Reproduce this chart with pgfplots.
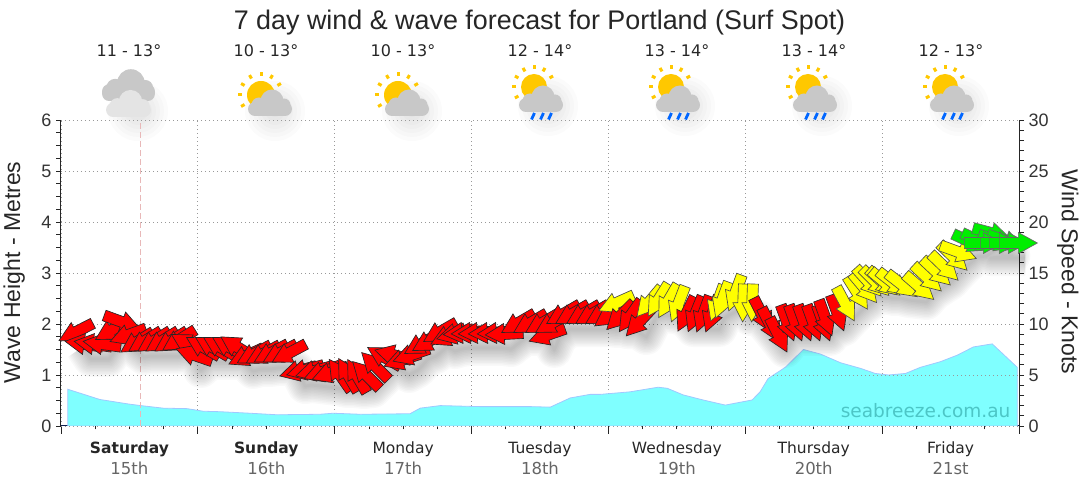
\documentclass[border=0pt]{standalone}
\usepackage{fontspec}
\usepackage{pgfplots}
\usepackage{pgfplotstable}
\pgfplotsset{compat=1.18}
\setmainfont{Liberation Sans}
\newfontfamily\labfont{DejaVu Sans}

\definecolor{wavefill}{HTML}{7FFFFF}
\definecolor{waveedge}{HTML}{A0C8FF}
\definecolor{griddot}{HTML}{999999}
\definecolor{nowline}{HTML}{E8B8B8}
\definecolor{ticktxt}{HTML}{333333}
\definecolor{daygrey}{HTML}{666666}
\definecolor{navyline}{HTML}{10204F}
\definecolor{arrowred}{HTML}{FF0000}
\definecolor{arrowyel}{HTML}{FFFF00}
\definecolor{arrowgrn}{HTML}{00EE00}
\definecolor{sunc}{HTML}{FFC800}
\definecolor{cloudd}{HTML}{C8C8C8}
\definecolor{cloudl}{HTML}{E4E4E4}
\definecolor{rainc}{HTML}{0066FF}
\definecolor{water}{HTML}{4CC6C6}

\pgfplotstableread{
h k
1.2 0.72
6.8 0.52
11.9 0.43
14.0 0.40
17.9 0.35
22.1 0.34
24.9 0.29
27.9 0.28
33.2 0.25
37.9 0.22
45.4 0.23
47.7 0.25
52.5 0.23
61.2 0.24
63.0 0.35
66.5 0.40
73.5 0.38
82.3 0.38
85.8 0.37
89.3 0.55
92.8 0.62
94.6 0.62
99.8 0.67
104.7 0.76
106.3 0.74
109.1 0.61
112.6 0.51
116.5 0.41
121.2 0.51
122.6 0.67
124.0 0.93
127.0 1.15
130.2 1.50
133.2 1.41
136.7 1.24
140.2 1.13
142.8 1.03
145.1 1.00
148.1 1.03
150.7 1.15
154.2 1.26
157.2 1.39
160.0 1.55
163.3 1.61
167.7 1.15
}\wavetable

% hour, knots, direction the arrow points (deg, anticlockwise from east), colour class
\pgfplotstableread{
h k dir cls
2.63 9.22 207 r
4.03 8.04 172 r
5.61 8.04 172 r
7.19 8.04 172 r
8.94 9.41 210 r
10.7 10.2 340 r
11.75 8.92 200 r
13.33 8.24 212 r
14.73 8.33 212 r
16.31 8.33 212 r
17.71 8.33 212 r
19.29 8.33 212 r
20.69 8.43 212 r
22.27 8.04 150 r
23.33 6.96 161 r
24.9 7.75 150 r
26.49 7.75 150 r
27.89 7.75 150 r
29.47 7.75 150 r
30.87 7.75 148 r
32.46 6.86 205 r
33.86 7.06 208 r
35.44 7.06 208 r
36.84 7.16 208 r
38.42 7.16 208 r
40.0 7.16 208 r
41.58 5.39 195 r
42.81 5.49 195 r
44.39 5.39 195 r
45.79 5.29 200 r
47.19 5.20 200 r
48.95 5.00 125 r
50.35 5.00 120 r
51.93 4.90 120 r
53.51 5.00 135 r
55.09 5.88 135 r
56.67 6.76 150 r
58.25 6.96 165 r
59.82 6.47 199 r
61.4 6.96 199 r
63.16 8.04 210 r
64.56 8.33 210 r
66.49 9.22 210 r
67.89 8.82 205 r
69.12 9.02 195 r
70.35 9.12 185 r
71.75 9.12 183 r
72.98 9.12 183 r
74.74 9.12 183 r
76.32 9.12 183 r
77.72 9.02 183 r
80.18 10.1 210 r
82.28 10.1 210 r
84.39 10.1 210 r
85.26 8.92 199 r
86.14 10.1 210 r
88.07 10.98 210 r
89.65 10.98 210 r
91.58 10.98 210 r
93.16 10.98 210 r
94.91 10.98 210 r
96.32 10.88 215 r
97.37 12.06 204 y
98.07 10.78 225 r
99.82 10.78 235 r
101.4 10.2 227 r
103.16 12.16 230 y
104.74 12.35 238 y
106.49 12.25 240 y
108.25 11.96 249 y
109.65 10.98 244 r
111.23 10.98 248 r
112.63 10.98 250 r
114.21 10.98 250 r
115.09 12.06 250 y
115.96 12.35 250 y
118.25 13.04 250 y
119.65 12.06 268 y
121.23 12.06 268 y
122.98 10.88 297 r
124.39 9.9 297 r
125.79 8.92 297 r
127.37 10.1 290 r
128.77 10.1 290 r
130.35 10.1 290 r
131.93 10.1 290 r
133.68 10.1 290 r
134.04 10.59 290 r
136.14 11.08 290 r
137.54 11.96 298 y
139.65 13.04 302 y
140.88 13.53 310 y
141.58 14.12 312 y
142.81 14.12 315 y
144.04 14.12 318 y
144.56 14.02 320 y
145.96 14.02 322 y
147.54 13.82 322 y
150.53 13.63 319 y
151.93 14.51 317 y
153.51 15.1 317 y
154.91 15.59 316 y
156.49 16.57 316 y
157.37 17.06 340 y
159.47 18.04 335 g
161.05 18.14 335 g
163.16 18.92 345 g
164.04 18.14 340 g
165.61 18.14 340 g
161.75 17.94 0 g
164.56 17.94 0 g
166.14 17.94 0 g
167.89 17.94 0 g
}\windtable

% block arrow centred on the data point, rotated by the dir column
\pgfdeclareplotmark{windarrow}{%
  \pgftransformrotate{\winddir}%
  \pgfpathmoveto{\pgfpoint{19pt}{0pt}}%
  \pgfpathlineto{\pgfpoint{0pt}{10.5pt}}%
  \pgfpathlineto{\pgfpoint{0pt}{5.5pt}}%
  \pgfpathlineto{\pgfpoint{-19pt}{5.5pt}}%
  \pgfpathlineto{\pgfpoint{-19pt}{-5.5pt}}%
  \pgfpathlineto{\pgfpoint{0pt}{-5.5pt}}%
  \pgfpathlineto{\pgfpoint{0pt}{-10.5pt}}%
  \pgfpathclose
  \pgfusepathqfillstroke
}

% icon helpers, image coordinates (y down from the top)
\newcommand\iconshadow[2]{%
  \foreach \r in {6,10,...,30}
    \fill[black,opacity=.014] (#1+5,490-#2-6) circle (\r);
}
\newcommand\iconcloud[4]{%
  \begin{scope}[shift={(#1,490-#2)},scale=#3]
    \fill[#4,rounded corners=7] (-22,0) rectangle (22,14);
    \fill[#4] (2,15) circle (11.5);
    \fill[#4] (-11,11) circle (7.5);
    \fill[#4] (14,11) circle (6.5);
  \end{scope}%
}
\newcommand\iconsun[3]{%
  \begin{scope}[shift={(#1,490-#2)}]
    \fill[sunc] (0,0) circle (#3);
    \foreach \a in {30,60,...,210}
      \draw[sunc,line width=3pt] (\a:#3+5) -- (\a:#3+9);
  \end{scope}%
}
\newcommand\iconrain[2]{%
  \foreach \d in {-8,1,9}
    \draw[rainc,line width=2.8pt] (#1+\d+1.5,490-#2) -- (#1+\d-1.5,490-#2-6.5);
}
\newcommand\suncloud[1]{%
  \iconshadow{#1+4}{105}%
  \iconsun{#1-5}{95}{14}%
  \iconcloud{#1+4}{116}{1}{cloudd}%
}
\newcommand\sunrain[1]{%
  \iconshadow{#1+3}{100}%
  \iconsun{#1-6}{87}{13}%
  \iconcloud{#1+1}{112}{1}{cloudd}%
  \iconrain{#1+1}{113}%
}
\newcommand\temp[2]{%
  \node[text=black!85] at (#1,439) {\labfont\fontsize{16}{19}\selectfont #2};%
}
\newcommand\daydate[1]{{\color{daygrey}\fontsize{16.5}{19}\selectfont #1}}

\begin{document}
\begin{tikzpicture}[x=1pt,y=1pt]
\useasboundingbox (0,0) rectangle (1080,490);

\temp{129}{11 - 13°}
\temp{266}{10 - 13°}
\temp{403}{10 - 13°}
\temp{540}{12 - 14°}
\temp{677}{13 - 14°}
\temp{814}{13 - 14°}
\temp{951}{12 - 13°}

\iconshadow{133}{105}
\iconcloud{128.5}{101}{1.2}{cloudd}
\iconcloud{128.5}{117}{1.02}{cloudl}
\suncloud{266}
\suncloud{403}
\sunrain{540}
\sunrain{677}
\sunrain{814}
\sunrain{951}

% wave area and the time axis
\begin{axis}[
    at={(61pt,64pt)}, anchor=south west,
    scale only axis, width=958pt, height=306pt,
    xmin=0, xmax=168, ymin=0, ymax=6,
    axis x line*=bottom, axis y line=none,
    axis line style={navyline,line width=1pt,-},
    xtick={0,24,...,168}, xticklabels=\empty,
    minor x tick num=3,
    tick align=outside, major tick length=8pt, minor tick length=3.5pt,
    tick style={black!85,line width=.8pt},
    xmajorgrids,
    major grid style={griddot,dash pattern=on 1pt off 3pt,line width=.8pt},
    extra x ticks={12,36,60,84,108,132,156},
    extra x tick labels={
      {\textbf{Saturday}\\[4pt]\daydate{15th}},
      {\textbf{Sunday}\\[4pt]\daydate{16th}},
      {Monday\\[4pt]\daydate{17th}},
      {Tuesday\\[4pt]\daydate{18th}},
      {Wednesday\\[4pt]\daydate{19th}},
      {Thursday\\[4pt]\daydate{20th}},
      {Friday\\[4pt]\daydate{21st}}},
    extra x tick style={major tick length=0pt,xmajorgrids=false},
    xticklabel style={align=center,font=\labfont\fontsize{15.5}{17}\selectfont,
      text=black!85,yshift=-12pt},
    title={7 day wind \& wave forecast for Portland (Surf Spot)},
    title style={at={(axis description cs:0.4995,1)},anchor=center,yshift=91pt,
      font=\fontsize{26.9}{31}\selectfont,text=black!85},
]
\addplot[fill=wavefill,draw=waveedge,line width=.8pt] table[x=h,y=k] {\wavetable} \closedcycle;
\end{axis}

% left axis, height scale, grid
\begin{axis}[
    at={(61pt,64pt)}, anchor=south west,
    scale only axis, width=958pt, height=306pt,
    xmin=0, xmax=168, ymin=0, ymax=6,
    axis x line=none, axis y line*=left,
    axis line style={black!85,line width=1pt,-},
    ytick={0,1,...,6}, minor y tick num=3,
    tick align=outside, major tick length=5pt, minor tick length=5pt,
    tick style={black!85,line width=.8pt},
    ymajorgrids,
    major grid style={griddot,dash pattern=on 1pt off 3pt,line width=.8pt},
    /pgf/number format/assume math mode=true,
    yticklabel style={font=\fontsize{18}{20}\selectfont,text=ticktxt,xshift=-1pt},
    ylabel={Wave Height - Metres},
    ylabel style={at={(axis description cs:-0.049,0.502)},anchor=center,
      font=\fontsize{23}{26}\selectfont,text=black!85},
]
\addplot[nowline,dash pattern=on 6pt off 3pt,line width=.8pt] coordinates {(14,0) (14,6)};
\node[anchor=east,text=water] at (axis cs:167.1,0.30)
  {\labfont\fontsize{18.5}{22}\selectfont seabreeze.com.au};
\end{axis}

% right axis, wind arrows with a soft shadow below
\begin{axis}[
    at={(61pt,64pt)}, anchor=south west,
    scale only axis, width=958pt, height=306pt,
    xmin=0, xmax=168, ymin=0, ymax=30,
    axis x line=none, axis y line*=right,
    axis line style={black!85,line width=1pt,-},
    ytick={0,5,...,30}, minor y tick num=4,
    tick align=outside, major tick length=5pt, minor tick length=5pt,
    tick style={black!85,line width=.8pt},
    /pgf/number format/assume math mode=true,
    yticklabel style={font=\fontsize{18}{20}\selectfont,text=ticktxt,xshift=1pt},
    ylabel={Wind Speed - Knots},
    ylabel style={at={(axis description cs:1.051,0.503)},anchor=center,rotate=180,
      font=\fontsize{23}{26}\selectfont,text=black!85},
    clip=false,
]
\pgfplotsinvokeforeach{3,6,...,36}{
  \addplot[no marks,black,opacity=.022,line width=#1pt,line join=round,
    xshift=7pt,yshift=-15pt,forget plot] table[x=h,y=k] {\windtable};
}
\addplot[scatter,only marks,mark=windarrow,
    scatter src=explicit symbolic,
    visualization depends on={\thisrow{dir}\as\winddir},
    line width=.65pt,
    scatter/classes={
      r={mark=windarrow,draw=black!85,fill=arrowred},
      y={mark=windarrow,draw=black!70,fill=arrowyel},
      g={mark=windarrow,draw=black!60,fill=arrowgrn}},
  ] table[x=h,y=k,meta=cls] {\windtable};
\end{axis}
\end{tikzpicture}
\end{document}
